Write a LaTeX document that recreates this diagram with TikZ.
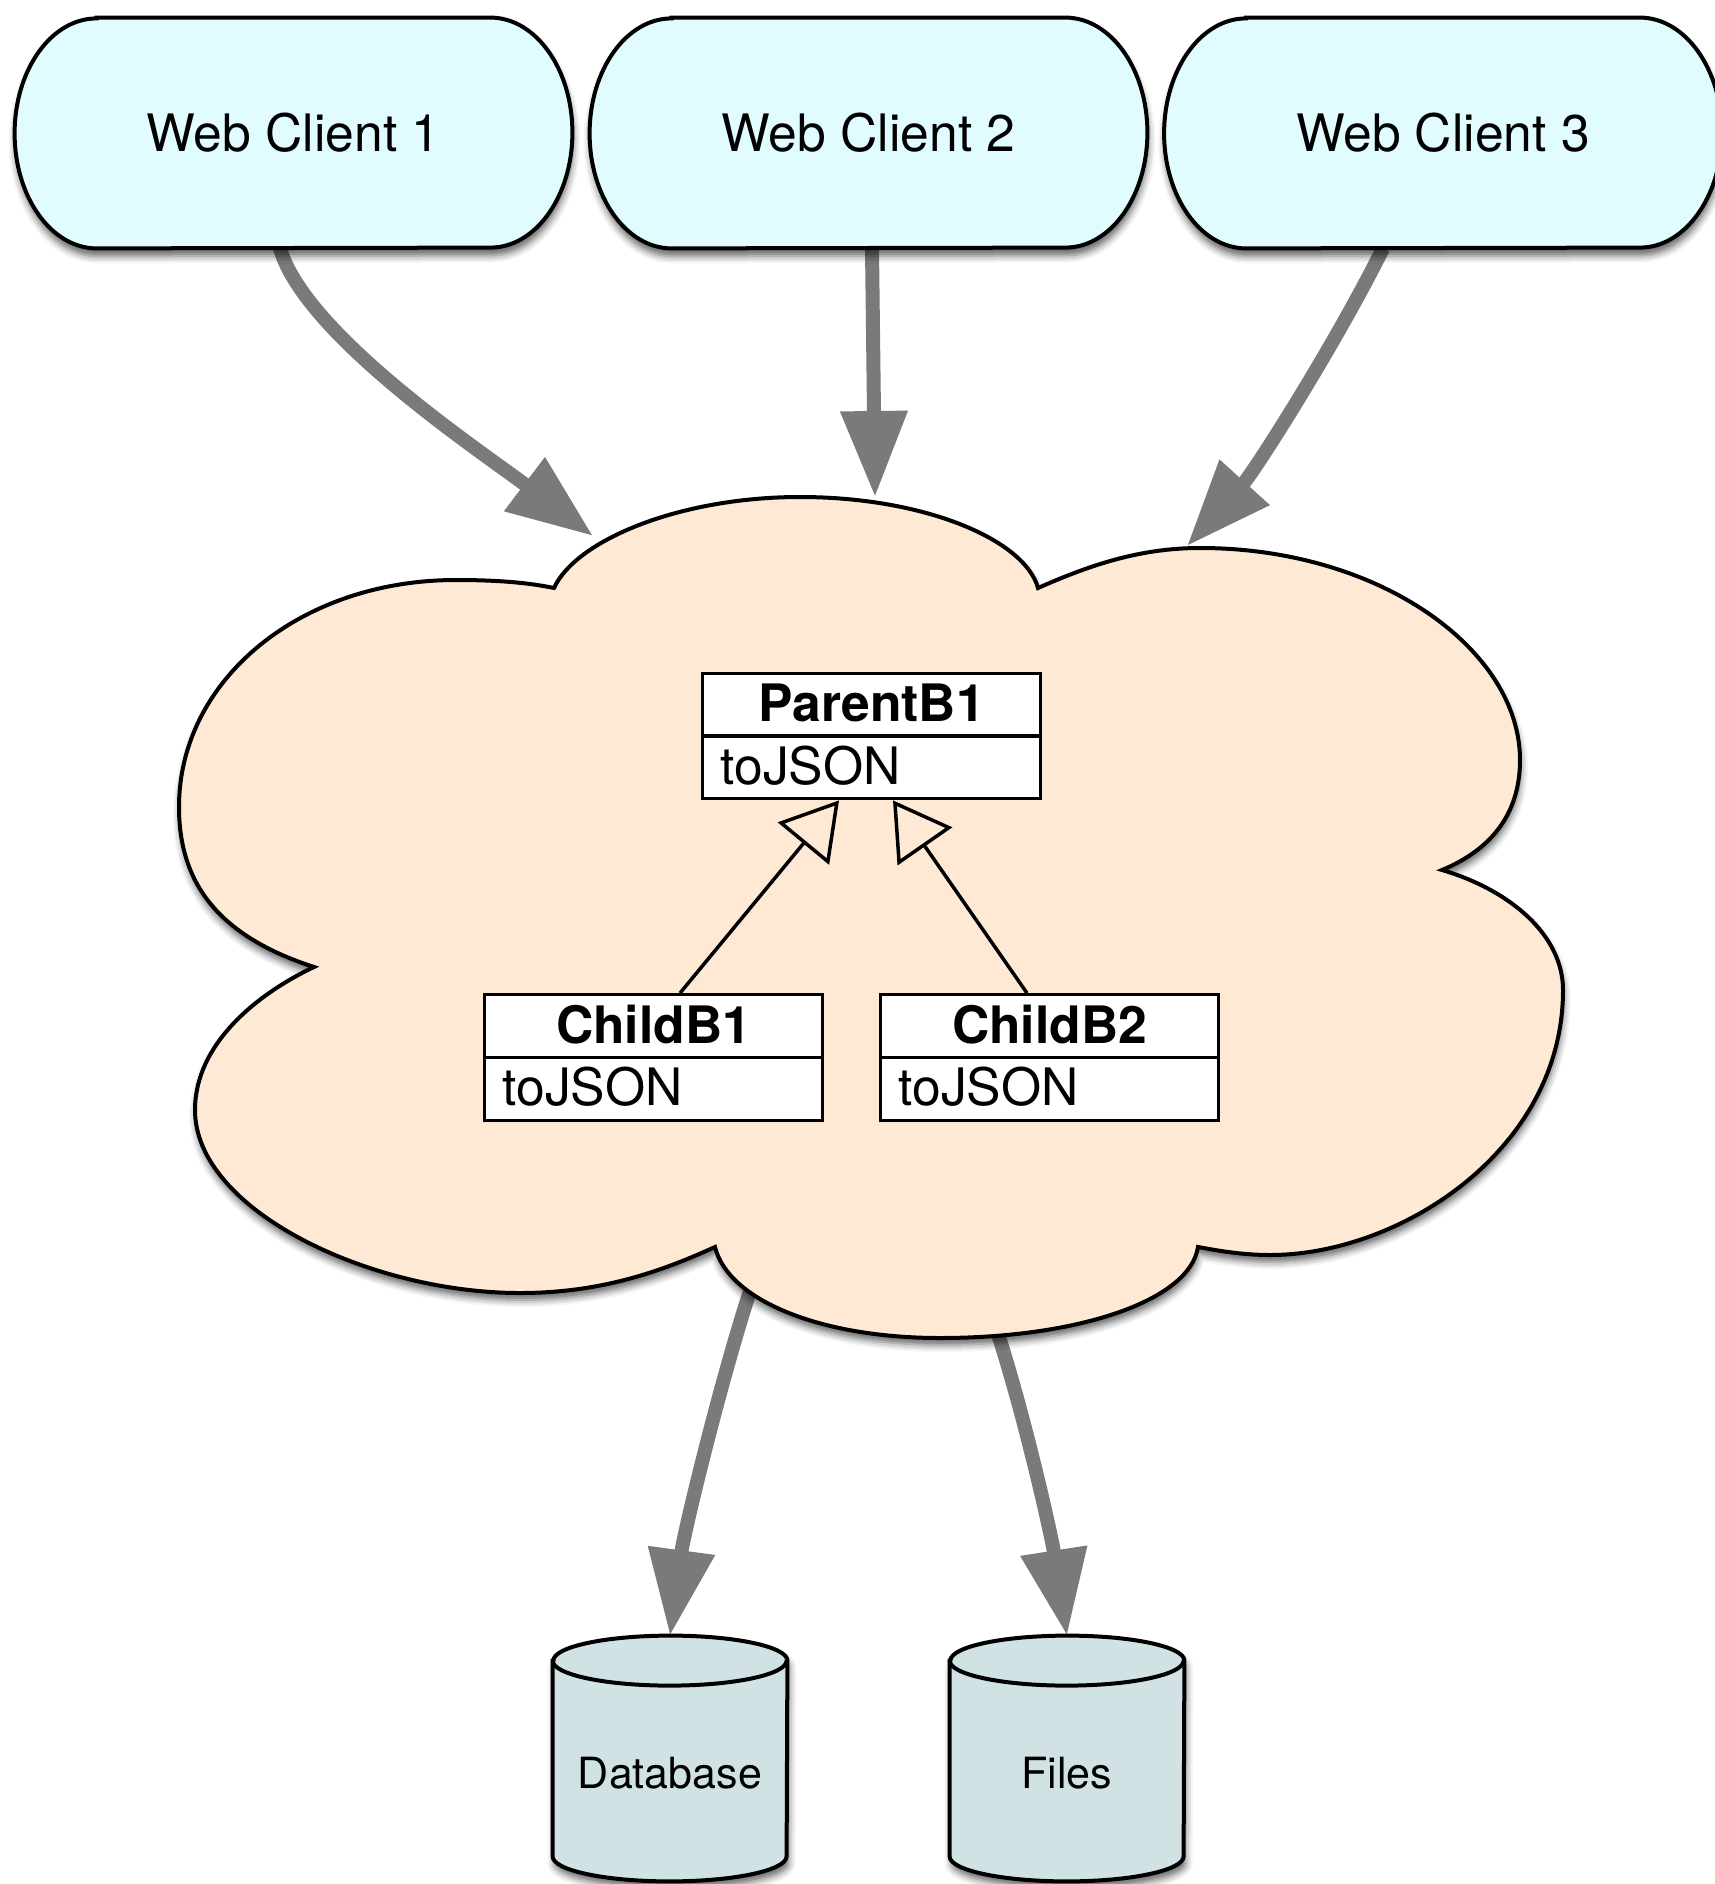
\documentclass[tikz,border=0pt]{standalone}
\usepackage{fontspec}
\setmainfont{TeX Gyre Heros}
\usetikzlibrary{arrows.meta,shapes.multipart,shadows.blur}
\definecolor{clientfill}{RGB}{224,252,254}
\definecolor{cloudfill}{RGB}{254,234,212}
\definecolor{cylfill}{RGB}{208,226,228}
\definecolor{flowgray}{RGB}{122,122,122}
\pgfdeclarelayer{bg}
\pgfdeclarelayer{mid}
\pgfsetlayers{bg,mid,main}
\newcommand\umlstrut{\rule[-3pt]{0pt}{23pt}}
\newcommand\clientshape[1]{%
  \draw[clientbody] ([xshift=41pt]#1.north west) -- ([xshift=-41pt]#1.north east)
    arc[start angle=90, end angle=-90, x radius=41pt, y radius=57.5pt]
    -- ([xshift=41pt]#1.south west)
    arc[start angle=270, end angle=90, x radius=41pt, y radius=57.5pt] -- cycle;}
\newcommand\cylshape[1]{%
  \draw[cylbody] ([yshift=-12.5pt]#1.north west) -- ([yshift=12.5pt]#1.south west)
    arc[start angle=180, end angle=360, x radius=58.5pt, y radius=12.5pt]
    -- ([yshift=-12.5pt]#1.north east)
    arc[start angle=0, end angle=180, x radius=58.5pt, y radius=12.5pt] -- cycle;
  \draw[line width=2pt] ([yshift=-12.5pt]#1.north west)
    arc[start angle=180, end angle=360, x radius=58.5pt, y radius=12.5pt];}
\begin{document}
\begin{tikzpicture}[x=0.5pt,y=0.5pt,
  client/.style={minimum width=278.5pt, minimum height=115pt, inner sep=0pt,
    font=\fontsize{25.8}{30}\selectfont},
  clientbody/.style={draw=black, line width=2pt, fill=clientfill,
    blur shadow={shadow xshift=0.5pt, shadow yshift=-4pt, shadow blur radius=3.5pt, shadow opacity=60}},
  cloudbody/.style={draw=black, line width=2pt, fill=cloudfill,
    blur shadow={shadow xshift=0.5pt, shadow yshift=-3.5pt, shadow blur radius=3.5pt, shadow opacity=60}},
  cyl/.style={minimum width=117pt, minimum height=122.5pt, inner sep=0pt,
    text height=30pt, text depth=0pt, font=\fontsize{21.5}{25}\selectfont},
  cylbody/.style={draw=black, line width=2pt, fill=cylfill,
    blur shadow={shadow xshift=1pt, shadow yshift=-3.5pt, shadow blur radius=3.5pt, shadow opacity=60}},
  umlbox/.style={rectangle split, rectangle split parts=2,
    rectangle split part align={center,left}, draw=black, line width=1.6pt,
    fill=white, minimum width=169pt, inner xsep=9pt, inner ysep=3.4pt,
    font=\fontsize{25.8}{30}\selectfont},
  flow/.style={draw=flowgray, line width=7pt, -{Triangle[length=43pt,width=32pt]}},
  inherit/.style={draw=black, line width=1.75pt, -{Triangle[open,length=28pt,width=33pt]}}]
\useasboundingbox (0,0) rectangle (1714,-1884);

% nodes
\node[client] (wc1) at (293.5,-133) {Web Client 1};
\node[client] (wc2) at (868.5,-133) {Web Client 2};
\node[client] (wc3) at (1443,-133) {Web Client 3};
\node[umlbox] (parent) at (871.5,-736) {\umlstrut\textbf{ParentB1}\nodepart{two}\umlstrut toJSON};
\node[umlbox] (child1) at (653.5,-1057.5) {\umlstrut\textbf{ChildB1}\nodepart{two}\umlstrut toJSON};
\node[umlbox] (child2) at (1049.5,-1057.5) {\umlstrut\textbf{ChildB2}\nodepart{two}\umlstrut toJSON};
\node[cyl] (db) at (670,-1758.5) {Database};
\node[cyl] (files) at (1067,-1758.5) {Files};

\coordinate (cin1) at (593,-536);
\coordinate (cin2) at (875,-497);
\coordinate (cin3) at (1187,-546);
\coordinate (cout1) at (752,-1285);
\coordinate (cout2) at (995,-1325);

% shapes
\begin{pgfonlayer}{mid}
\clientshape{wc1}
\clientshape{wc2}
\clientshape{wc3}
\draw[cloudbody] (554,-588)
  .. controls (576,-540) and (680,-497) .. (800,-497)
  .. controls (925,-497) and (1025,-540) .. (1038,-588)
  .. controls (1090,-565) and (1140,-548) .. (1200,-548)
  .. controls (1380,-548) and (1520,-650) .. (1520,-760)
  .. controls (1520,-815) and (1490,-850) .. (1442,-870)
  .. controls (1510,-890) and (1563,-935) .. (1563,-990)
  .. controls (1563,-1150) and (1400,-1255) .. (1270,-1255)
  .. controls (1240,-1255) and (1215,-1250) .. (1198,-1247)
  .. controls (1190,-1300) and (1080,-1338) .. (940,-1338)
  .. controls (820,-1338) and (728,-1300) .. (715,-1247)
  .. controls (660,-1272) and (600,-1293) .. (520,-1293)
  .. controls (370,-1293) and (195,-1210) .. (195,-1110)
  .. controls (195,-1045) and (255,-995) .. (314,-967)
  .. controls (215,-935) and (179,-880) .. (179,-807)
  .. controls (179,-680) and (300,-580) .. (456,-580)
  .. controls (500,-580) and (530,-583) .. (554,-588) -- cycle;
\cylshape{db}
\cylshape{files}
\end{pgfonlayer}

% flows
\begin{pgfonlayer}{bg}
\draw[flow] ([xshift=-6.75pt]wc1.south) .. controls (305,-335) and (482,-452) .. (cin1);
\draw[flow] ([xshift=1.75pt]wc2.south) -- (cin2);
\draw[flow] ([xshift=-30pt]wc3.south) .. controls (1335,-345) and (1254,-472) .. (cin3);
\draw[flow] (cout1) .. controls (722,-1375) and (684,-1532) .. (db.north);
\draw[flow] (cout2) .. controls (1022,-1405) and (1051,-1533) .. (files.north);
\end{pgfonlayer}

% inheritance
\draw[inherit] ([xshift=13.25pt]child1.north) -- ([xshift=-16.25pt]parent.south);
\draw[inherit] ([xshift=-11.25pt]child2.north) -- ([xshift=10.75pt]parent.south);
\end{tikzpicture}
\end{document}
